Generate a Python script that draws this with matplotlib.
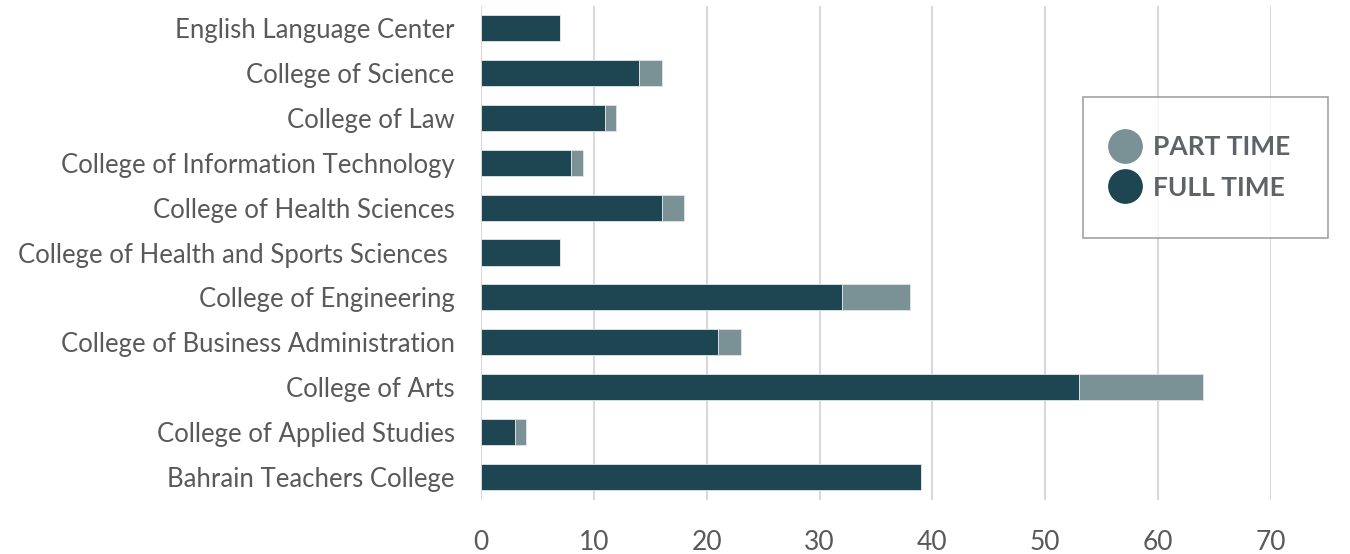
import matplotlib
matplotlib.use("Agg")
import matplotlib.pyplot as plt
from matplotlib.lines import Line2D
import numpy as np

# categories listed bottom to top as they are drawn on the y axis
colleges = [
    "Bahrain Teachers College",
    "College of Applied Studies",
    "College of Arts",
    "College of Business Administration",
    "College of Engineering",
    "College of Health and Sports Sciences ",
    "College of Health Sciences",
    "College of Information Technology",
    "College of Law",
    "College of Science",
    "English Language Center",
]
full_time = [39, 3, 53, 21, 32, 7, 16, 8, 11, 14, 7]
part_time = [0, 1, 11, 2, 6, 0, 2, 1, 1, 2, 0]
x_ticks = [0, 10, 20, 30, 40, 50, 60, 70]

c_full = "#1d4552"
c_part = "#7a9196"
c_text = "#595959"

plt.rcParams["font.family"] = ["Lato", "DejaVu Sans"]

fig = plt.figure(figsize=(13.5, 5.54), dpi=100)
ax = fig.add_axes([481 / 1350, 1 - 499.5 / 554, (1271 - 481) / 1350, 494 / 554])

y = np.arange(len(colleges))
ax.barh(y, full_time, height=0.58, color=c_full, edgecolor="#dfe6e8", linewidth=0.6, zorder=3)
ax.barh(y, part_time, left=full_time, height=0.58, color=c_part, edgecolor="#dfe6e8", linewidth=0.6, zorder=3)

ax.set_xlim(0, 70)
ax.set_ylim(-0.5, len(colleges) - 0.5)
ax.set_xticks(x_ticks)
ax.set_yticks(y)
ax.set_yticklabels(colleges)
ax.tick_params(axis="both", length=0, labelsize=18.5, colors=c_text)
ax.tick_params(axis="x", labelsize=19, pad=22)
ax.tick_params(axis="y", pad=19)
ax.grid(axis="x", color="#d9d9d9", linewidth=1.5, zorder=0)
for s in ax.spines.values():
    s.set_visible(False)

handles = [
    Line2D([], [], marker="o", linestyle="none", markersize=24, color=c_part),
    Line2D([], [], marker="o", linestyle="none", markersize=24, color=c_full),
]
leg = fig.legend(handles, ["PART TIME", "FULL TIME"],
                 loc="upper left", bbox_to_anchor=(1083 / 1350, 1 - 97 / 554),
                 frameon=True, fancybox=False, fontsize=19,
                 borderpad=1.45, labelspacing=0.62, handletextpad=0.9,
                 borderaxespad=0, handlelength=0.3)
leg.get_frame().set_edgecolor("#8c8c8c")
leg.get_frame().set_linewidth(1.2)
for t in leg.get_texts():
    t.set_color("#5f6368")
    t.set_fontweight("bold")

fig.savefig("out.png", dpi=100)
